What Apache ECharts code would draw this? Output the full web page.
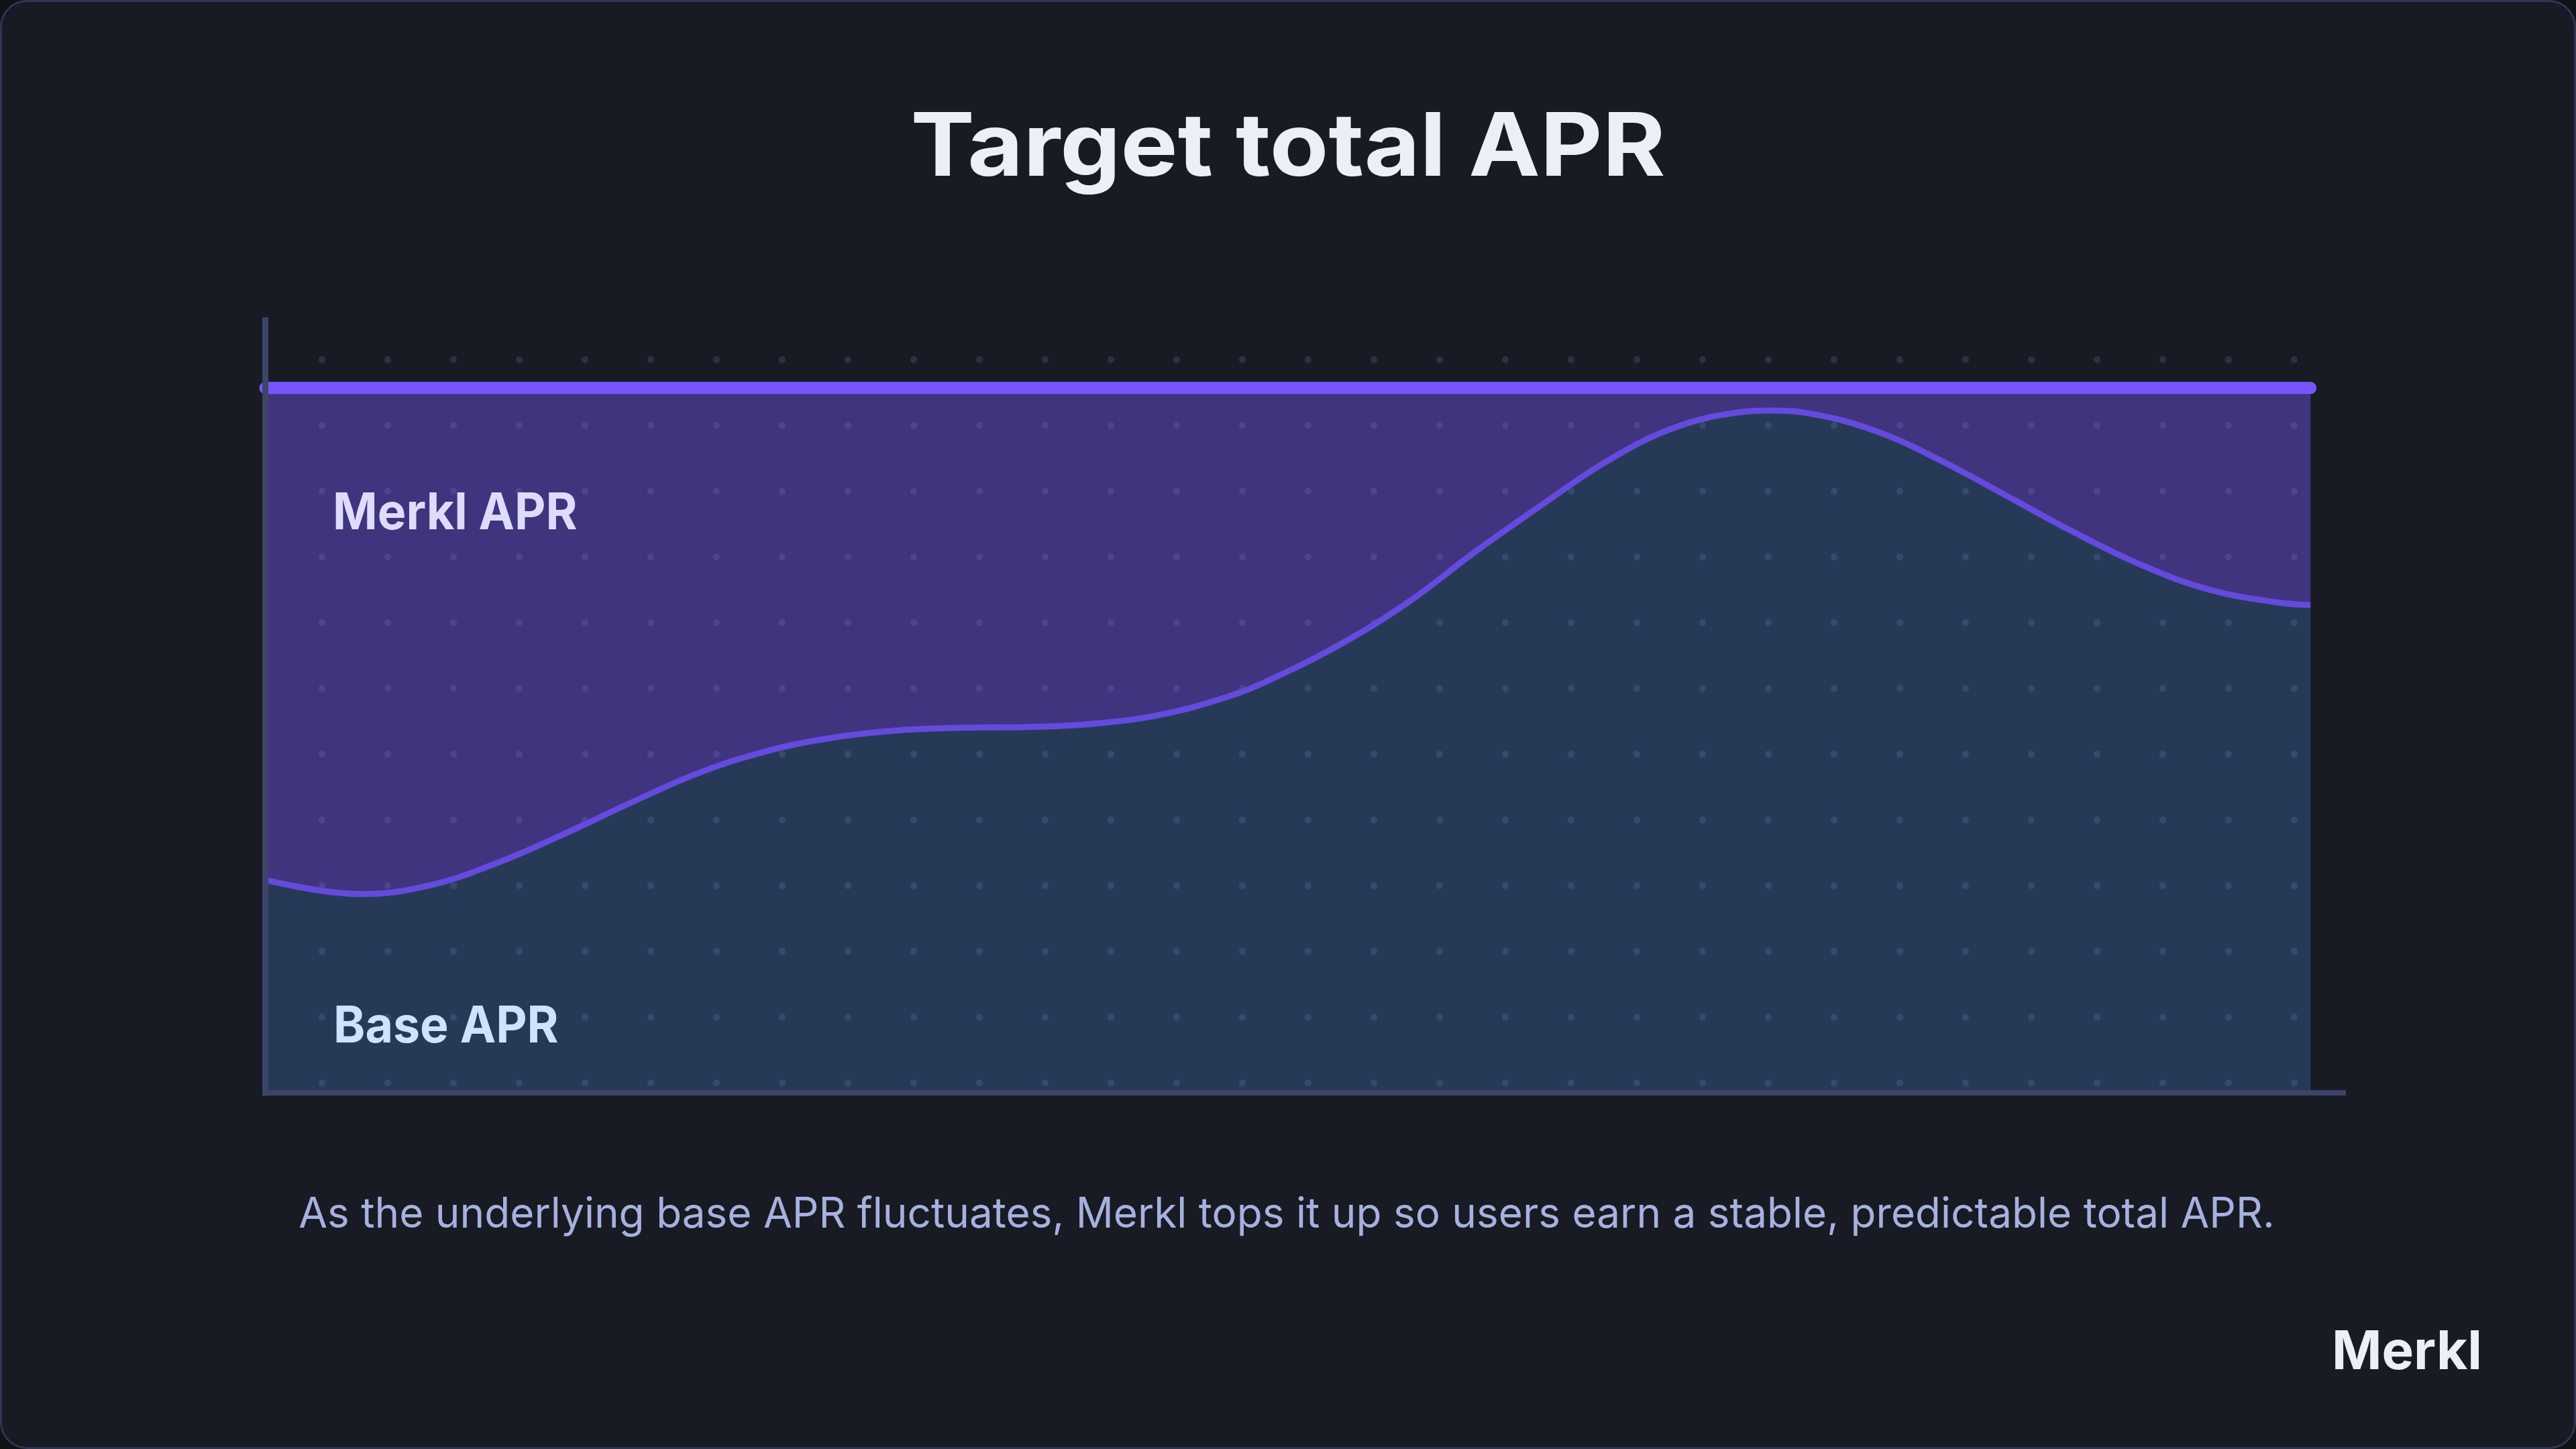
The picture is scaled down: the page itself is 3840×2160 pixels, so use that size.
<!DOCTYPE html>
<html>
<head>
<meta charset="utf-8">
<script src="https://cdn.jsdelivr.net/npm/echarts@6/dist/echarts.min.js"></script>
<style>
  html, body { margin: 0; padding: 0; background: #111216; }
  #card { position: absolute; left: 0; top: 0; width: 3840px; height: 2160px; box-sizing: border-box;
          border: 3px solid #2f3553; border-radius: 40px; background: #181b24; }
  #chart { position: absolute; left: 0; top: 0; width: 3840px; height: 2160px; }
</style>
</head>
<body>
<div id="card"></div>
<div id="chart"></div>
<script>
// ---- data ----
const periods = [0, 4.71, 7.99, 11.24, 14.52, 17.76, 21.04, 24.29, 27.57, 30.82, 34.10, 37.35, 40.63, 43.87,
                 47.16, 49.35, 52.60, 55.88, 59.13, 62.41, 65.65, 68.93, 72.21, 73.50, 75.46, 78.74, 81.99,
                 85.27, 88.52, 91.80, 95.04, 98.32, 100];
const baseAPR = [3.02, 2.82, 2.94, 3.25, 3.66, 4.10, 4.52, 4.83, 5.03, 5.14, 5.18, 5.19, 5.24, 5.37,
                 5.63, 5.89, 6.37, 6.96, 7.67, 8.34, 8.97, 9.44, 9.66, 9.68, 9.64, 9.39, 8.96,
                 8.45, 7.94, 7.48, 7.14, 6.96, 6.92];
const targetPeriods = [0, 100];
const targetAPR = [10, 10];
const titleText = 'Target total APR';
const merklLabel = 'Merkl APR';
const baseLabel = 'Base APR';
const captionText = 'As the underlying base APR fluctuates, Merkl tops it up so users earn a stable, predictable total APR.';
const logoText = 'Merkl';
const dotColumns = [0, 30];
const dotRows = [0, 1];

const basePairs = periods.map((p, i) => [p, baseAPR[i]]);
const targetPairs = targetPeriods.map((p, i) => [p, targetAPR[i]]);

const chart = echarts.init(document.getElementById('chart'), null, { renderer: 'canvas' });

function txt(text, x, y, font, fill, align, sx) {
  return {
    type: 'text', z: 20, x: x, y: y, scaleX: sx || 1, scaleY: 1,
    style: { text, x: 0, y: 0, font, fill, align, textAlign: align, verticalAlign: 'middle', textVerticalAlign: 'middle' }
  };
}

chart.setOption({
  animation: false,
  backgroundColor: 'transparent',
  grid: [
    { left: 395.5, top: 477.5, width: 3097.5, height: 1151.5, containLabel: false },
    { left: 480, top: 536, width: 2940, height: 1078.5, containLabel: false }
  ],
  xAxis: [
    { type: 'value', gridIndex: 0, min: 0, max: 101.6, z: 6,
      axisLine: { show: true, onZero: false, lineStyle: { color: '#3d4466', width: 8, cap: 'square' } },
      axisTick: { show: false }, axisLabel: { show: false }, splitLine: { show: false } },
    { type: 'value', gridIndex: 1, min: dotColumns[0], max: dotColumns[1], interval: 1, z: 3,
      axisLine: { show: false }, axisTick: { show: false }, axisLabel: { show: false },
      splitLine: { show: true, lineStyle: { color: 'rgba(110,130,195,0.22)', width: 10, type: [0.5, 97.5], cap: 'round' } } }
  ],
  yAxis: [
    { type: 'value', gridIndex: 0, min: 0, max: 10.96, z: 6,
      axisLine: { show: true, onZero: false, lineStyle: { color: '#3d4466', width: 9, cap: 'square' } },
      axisTick: { show: false }, axisLabel: { show: false }, splitLine: { show: false } },
    { type: 'value', gridIndex: 1, min: dotRows[0], max: dotRows[1], show: false,
      axisLine: { show: false }, axisTick: { show: false }, axisLabel: { show: false }, splitLine: { show: false } }
  ],
  series: [
    { name: 'Merkl APR area', type: 'line', xAxisIndex: 0, yAxisIndex: 0, data: targetPairs, z: 1,
      symbol: 'none', lineStyle: { width: 0, opacity: 0 }, areaStyle: { color: '#40347f', opacity: 1 } },
    { name: 'Base APR area', type: 'line', xAxisIndex: 0, yAxisIndex: 0, data: basePairs, z: 2, smooth: 0.4,
      symbol: 'none', lineStyle: { width: 0, opacity: 0 }, areaStyle: { color: '#263a57', opacity: 1 } },
    { name: 'Base APR', type: 'line', xAxisIndex: 0, yAxisIndex: 0, data: basePairs, z: 4, smooth: 0.4,
      symbol: 'none', lineStyle: { width: 9, color: '#644add' } },
    { name: 'Target APR', type: 'line', xAxisIndex: 0, yAxisIndex: 0, data: targetPairs, z: 5,
      symbol: 'none', lineStyle: { width: 18, color: '#7856ff', cap: 'round' } }
  ],
  graphic: [
    txt(titleText, 1920, 223, 'bold 130px Inter', '#eceef8', 'center', 1.10),
    txt(merklLabel, 496, 766, 'bold 75px Inter', '#dedcfd', 'left', 0.955),
    txt(baseLabel, 497, 1531, 'bold 75px Inter', '#cfe2ff', 'left', 0.955),
    txt(captionText, 1918, 1811, '63px Inter', '#a6b1de', 'center', 0.985),
    txt(logoText, 3700, 2017, 'bold 80px Inter', '#eceef8', 'right')
  ]
});
</script>
</body>
</html>
